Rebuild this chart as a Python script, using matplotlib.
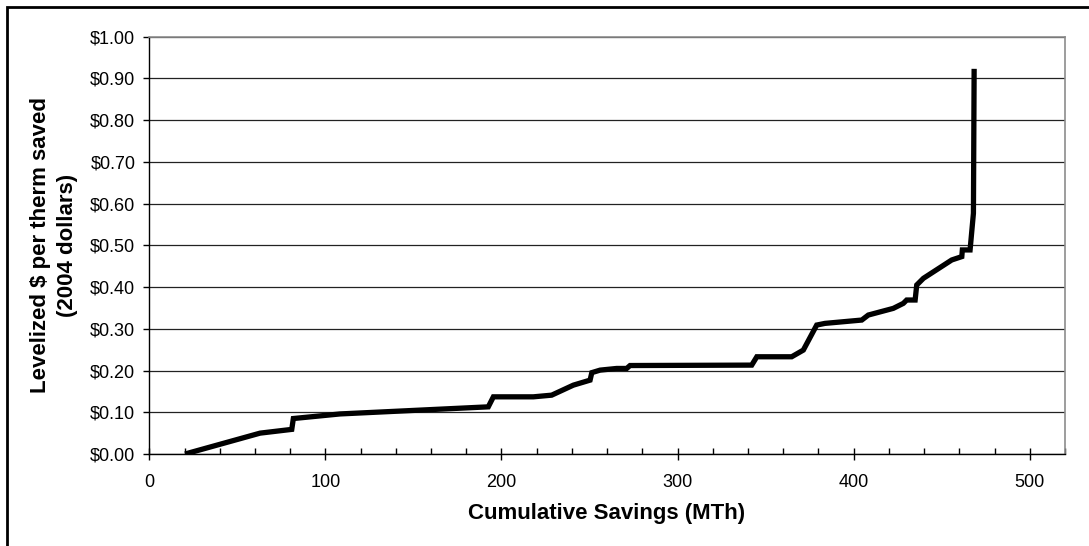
import matplotlib
matplotlib.use("Agg")
import matplotlib.pyplot as plt
from matplotlib.ticker import MultipleLocator, FuncFormatter
from matplotlib.patches import Rectangle

# Cumulative savings (MTh) and levelized cost ($/therm, 2004 dollars)
savings = [20.3, 62.9, 80.9, 81.8, 108.3, 192.5, 195.4, 218.1, 228.5, 240.8,
           250.3, 251.3, 256.0, 265.4, 271.1, 273.0, 342.1, 345.0, 364.8, 371.4,
           379.0, 383.7, 404.6, 408.3, 422.5, 428.2, 430.1, 434.9, 435.8, 439.6,
           455.7, 461.4, 461.7, 466.1, 468.0, 468.4]
cost = [0.000, 0.050, 0.059, 0.085, 0.096, 0.113, 0.137, 0.137, 0.141, 0.165,
        0.177, 0.195, 0.201, 0.205, 0.205, 0.212, 0.213, 0.233, 0.233, 0.249,
        0.309, 0.313, 0.321, 0.333, 0.349, 0.361, 0.369, 0.369, 0.405, 0.421,
        0.465, 0.473, 0.489, 0.489, 0.577, 0.923]

x_label = "Cumulative Savings (MTh)"
y_label = "Levelized $ per therm saved\n(2004 dollars)"

plt.rcParams['font.family'] = ['Liberation Sans', 'DejaVu Sans']

W, H = 1089, 546
fig = plt.figure(figsize=(W / 100, H / 100), dpi=100)
ax = fig.add_axes([149.3 / W, 1 - 454 / H, (1065 - 149.3) / W, (454 - 36.7) / H])

ax.plot(savings, cost, color='black', lw=3.8, solid_joinstyle='miter',
        solid_capstyle='butt', zorder=3)

ax.set_xlim(0, 520)
ax.set_ylim(0, 1.0)
ax.xaxis.set_major_locator(MultipleLocator(100))
ax.xaxis.set_minor_locator(MultipleLocator(20))
ax.yaxis.set_major_locator(MultipleLocator(0.1))
ax.yaxis.set_major_formatter(FuncFormatter(lambda v, p: f"${v:.2f}"))

ax.grid(axis='y', color='#222222', lw=0.9, zorder=1)
ax.set_axisbelow(True)

for s in ['top', 'right']:
    ax.spines[s].set_color('#8c8c8c')
    ax.spines[s].set_linewidth(1.2)
for s in ['left', 'bottom']:
    ax.spines[s].set_color('black')
    ax.spines[s].set_linewidth(1.0)

ax.tick_params(axis='x', which='major', direction='inout', length=9, width=1,
               labelsize=13, pad=10)
ax.tick_params(axis='x', which='minor', direction='in', length=4, width=1)
ax.tick_params(axis='y', which='major', direction='out', length=4, width=1,
               labelsize=13, pad=6)

fig.text(607 / W, 1 - 513 / H, x_label, ha='center', va='center',
         fontsize=16, fontweight='bold')
fig.text(54 / W, 1 - 245 / H, y_label, ha='center', va='center',
         rotation=90, fontsize=16, fontweight='bold', linespacing=1.4,
         multialignment='center')

fig.patches.append(Rectangle((6.5 / W, -0.1), 1.2, 1.1 - 6.5 / H,
                             transform=fig.transFigure, fill=False,
                             edgecolor='black', lw=2.0))

fig.savefig("out.png", dpi=100, facecolor='white')
